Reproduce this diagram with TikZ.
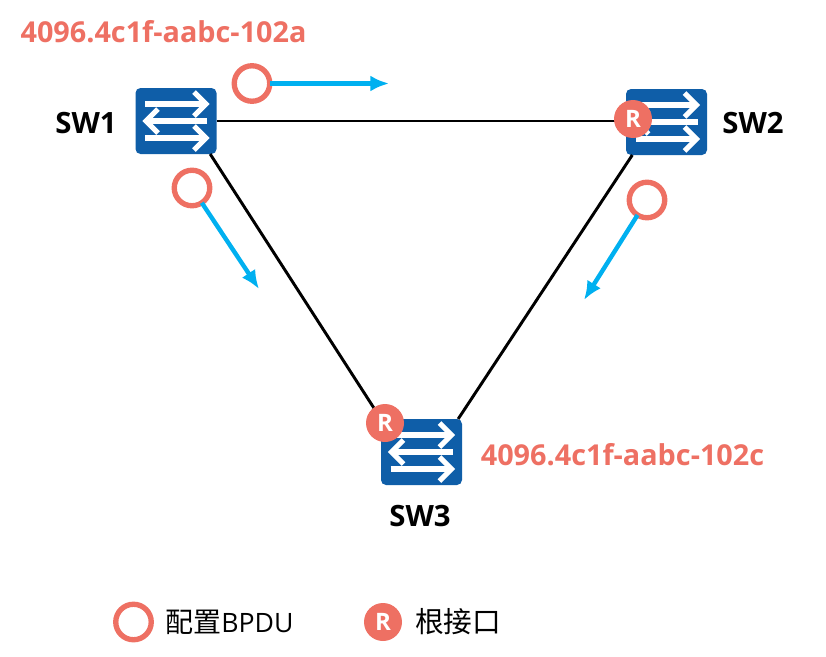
\documentclass[tikz,border=0pt]{standalone}
\usepackage{fontspec}
\setmainfont{Open Sans}
\newfontfamily\cjk{Noto Sans CJK SC}
\usetikzlibrary{arrows.meta}
\definecolor{swblue}{HTML}{0F5EA8}
\definecolor{rootred}{HTML}{EE7063}
\definecolor{bpdublue}{HTML}{00B0F0}
\tikzset{
  swbox/.style={draw=none,fill=swblue,rounded corners=5*0.75pt,minimum width=81*0.75pt,minimum height=66*0.75pt,inner sep=0pt,outer sep=0pt},
  swline/.style={draw=white,line width=3.8pt,miter limit=10},
  link/.style={draw=black,line width=2.2pt},
  bpdu/.style={circle,draw=rootred,fill=white,line width=4pt,minimum size=35.5*0.75pt,inner sep=0pt,outer sep=0pt},
  rport/.style={circle,fill=rootred,text=white,font=\bfseries\fontsize{18pt}{18pt}\selectfont,minimum size=38*0.75pt,inner sep=0pt},
  sendarrow/.style={draw=bpdublue,line width=3.3pt,-{Latex[length=14pt,width=12pt]}},
  swname/.style={font=\bfseries\fontsize{22pt}{22pt}\selectfont},
  macaddr/.style={text=rootred,font=\bfseries\fontsize{21.6pt}{21.6pt}\selectfont},
  legendtext/.style={anchor=west,inner sep=0pt,font=\fontsize{20pt}{20pt}\selectfont}}
\newcommand{\swicon}[1]{
	\begin{scope}[shift={(#1)}]
	\foreach \yy/\xa/\xb/\hh in {-17/-31/30/-12, 0/31/-30/12, 17/-31/30/-12}{
		\draw[swline] (\xa,\yy) -- (\xb,\yy);
		\draw[swline] (\xb+\hh,\yy-12) -- (\xb,\yy) -- (\xb+\hh,\yy+12);
	}
	\end{scope}
}

\begin{document}
\begin{tikzpicture}[x=0.75pt,y=-0.75pt]
	\useasboundingbox (0,0) rectangle (826,657);
	\node[swbox] (sw1) at (176,121) {};
	\node[swbox] (sw2) at (666.5,122) {};
	\node[swbox] (sw3) at (421.5,452) {};
	\swicon{sw1}\swicon{sw2}\swicon{sw3}
	\draw[link] (sw1.east) -- (sw2.west |- sw1.east);
	\draw[link] (sw1.-44) -- (sw3.north west);
	\draw[link] (sw2.224) -- (sw3.42);
	\node[swname] (n1) at (86,123) {SW1};
	\node[swname] (n2) at (753,123) {SW2};
	\node[swname] (n3) at (420,516) {SW3};
	\node[macaddr] (mac1) at (163.5,32) {4096.4c1f-aabc-102a};
	\node[macaddr] (mac3) at (622.5,455) {4096.4c1f-aabc-102c};
	\node[rport] (r2) at (633,119) {R};
	\node[rport] (r3) at (385,423) {R};
	\node[bpdu] (b1) at (252,83.5) {};
	\node[bpdu] (b2) at (192,188) {};
	\node[bpdu] (b3) at (647,200) {};
	\coordinate (e1) at (389,83.5);
	\coordinate (e2) at (259,289);
	\coordinate (e3) at (584,300);
	\draw[sendarrow] (b1) -- (e1);
	\draw[sendarrow] (b2) -- (e2);
	\draw[sendarrow] (b3) -- (e3);
	% legend
	\node[bpdu] (lb) at (133.5,622) {};
	\node[legendtext] (lbt) at (165,622) {{\cjk\fontsize{21pt}{21pt}\selectfont 配置}BPDU};
	\node[rport] (lr) at (383,622) {R};
	\node[legendtext] (lrt) at (415,622) {\cjk\fontsize{21.5pt}{21.5pt}\selectfont 根接口};
\end{tikzpicture}
\end{document}
